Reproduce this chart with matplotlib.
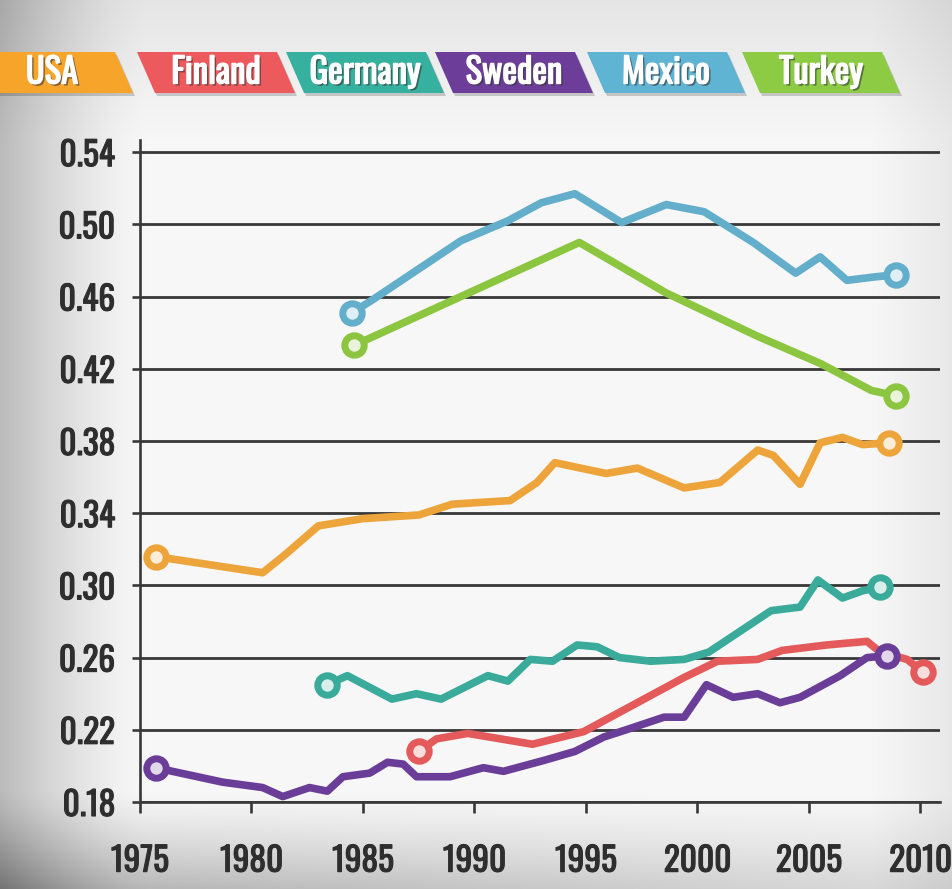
import numpy as np
import matplotlib.pyplot as plt
import matplotlib.patheffects as pe
from matplotlib.colors import to_rgb
from matplotlib.patches import Polygon

# narrow face first; later names only fill in if it is missing
plt.rcParams['font.family'] = ['Oswald', 'Roboto Condensed', 'Liberation Sans Narrow', 'Roboto', 'DejaVu Sans']

# Gini coefficient by country (year, value)
usa_years = [1975.7, 1980.5, 1981.6, 1983.0, 1985.0, 1987.5, 1989.0, 1991.6, 1992.8, 1993.6,
             1995.9, 1997.3, 1999.4, 2001.0, 2002.7, 2003.4, 2004.6, 2005.5, 2006.5, 2007.4, 2008.6]
usa_vals = [0.316, 0.307, 0.318, 0.333, 0.337, 0.339, 0.345, 0.347, 0.357, 0.368,
            0.362, 0.365, 0.354, 0.357, 0.375, 0.372, 0.356, 0.379, 0.382, 0.378, 0.379]

finland_years = [1987.5, 1988.3, 1989.7, 1992.6, 1994.9, 1997.3, 1999.4, 2000.9, 2002.7,
                 2003.8, 2005.8, 2007.6, 2008.2, 2009.4, 2010.1]
finland_vals = [0.208, 0.215, 0.218, 0.212, 0.219, 0.235, 0.249, 0.258, 0.259,
                0.264, 0.267, 0.269, 0.263, 0.259, 0.252]

germany_years = [1983.4, 1984.3, 1986.3, 1987.4, 1988.5, 1990.6, 1991.5, 1992.5, 1993.5, 1994.6,
                 1995.5, 1996.5, 1997.9, 1999.4, 2000.5, 2003.3, 2004.6, 2005.4, 2006.5, 2007.4, 2008.2]
germany_vals = [0.245, 0.250, 0.237, 0.240, 0.237, 0.250, 0.247, 0.259, 0.258, 0.267,
                0.266, 0.260, 0.258, 0.259, 0.263, 0.286, 0.288, 0.303, 0.293, 0.297, 0.299]

sweden_years = [1975.7, 1978.7, 1980.5, 1981.4, 1982.6, 1983.4, 1984.1, 1985.3, 1986.1, 1986.8,
                1987.4, 1988.9, 1990.4, 1991.3, 1993.1, 1994.5, 1995.8, 1996.8, 1998.5, 1999.4,
                2000.4, 2001.6, 2002.7, 2003.7, 2004.6, 2006.4, 2007.6, 2008.5]
sweden_vals = [0.199, 0.191, 0.188, 0.183, 0.188, 0.186, 0.194, 0.196, 0.202, 0.201,
               0.194, 0.194, 0.199, 0.197, 0.203, 0.208, 0.216, 0.220, 0.227, 0.227,
               0.245, 0.238, 0.240, 0.235, 0.238, 0.250, 0.260, 0.261]

mexico_years = [1984.5, 1985.4, 1989.4, 1991.5, 1993.0, 1994.5, 1996.6, 1998.6, 2000.3,
                2002.5, 2004.4, 2005.5, 2006.7, 2008.0, 2008.9]
mexico_vals = [0.451, 0.458, 0.491, 0.502, 0.512, 0.517, 0.501, 0.511, 0.507,
               0.490, 0.473, 0.482, 0.469, 0.471, 0.472]

turkey_years = [1984.6, 1994.7, 1998.6, 2002.7, 2005.5, 2007.8, 2008.9]
turkey_vals = [0.433, 0.490, 0.462, 0.438, 0.423, 0.408, 0.405]

names = ['USA', 'Finland', 'Germany', 'Sweden', 'Mexico', 'Turkey']
colors = ['#eda53b', '#e45a5a', '#3aab9a', '#6a3d98', '#62aecb', '#8cc540']
tag_colors = ['#f6a52a', '#ec5a5e', '#36b19f', '#6c3e99', '#5fb3d3', '#8ccb43']
series = [(usa_years, usa_vals), (finland_years, finland_vals), (germany_years, germany_vals),
          (sweden_years, sweden_vals), (mexico_years, mexico_vals), (turkey_years, turkey_vals)]

yticks = [0.18, 0.22, 0.26, 0.30, 0.34, 0.38, 0.42, 0.46, 0.50, 0.54]
xticks = [1975, 1980, 1985, 1990, 1995, 2000, 2005, 2010]

W, H = 953, 889
fig = plt.figure(figsize=(W / 100, H / 100), dpi=100)

# backdrop: light grey with darker left and bottom edges
bg = fig.add_axes([0, 0, 1, 1])
xx, yy = np.meshgrid(np.arange(W), np.arange(H))
v = (0.97
     - 0.24 * np.clip(1 - xx / 150, 0, 1) ** 1.5
     - 0.28 * np.clip((yy - 790) / 99, 0, 1) ** 1.3 * (1 - 0.6 * xx / W)
     - 0.07 * np.clip(1 - yy / 140, 0, 1)
     - 0.06 * np.clip((xx - 870) / 83, 0, 1))
bg.imshow(np.dstack([v, v, v]), extent=(0, W, H, 0), aspect='auto')
bg.set_xlim(0, W)
bg.set_ylim(H, 0)
bg.axis('off')

# legend tags as slanted ribbons
tag_left = [-40, 137, 286, 435, 587, 742]
tag_w, slant, top, bot = 140, 18, 52, 93
for name, c, x0 in zip(names, tag_colors, tag_left):
    x1 = 115 if name == 'USA' else x0 + tag_w
    pts = [(x0, top), (x1, top), (x1 + slant, bot), (x0 + slant, bot)]
    bg.add_patch(Polygon([(px + 2, py + 3) for px, py in pts], closed=True,
                         facecolor='black', alpha=0.18, lw=0))
    bg.add_patch(Polygon(pts, closed=True, facecolor=c, lw=0))
    cx = 52 if name == 'USA' else (x0 + x1 + slant) / 2
    bg.text(cx, (top + bot) / 2, name, color='white', fontsize=25, fontweight='bold',
            fontstretch='condensed', ha='center', va='center',
            path_effects=[pe.SimplePatchShadow(offset=(1.5, -1.5), shadow_rgbFace='#333333', alpha=0.6),
                          pe.withStroke(linewidth=1.0, foreground='white')])

ax = fig.add_axes([140 / W, 1 - 802 / H, 800 / W, 662 / H])
ax.set_facecolor('none')
ax.set_zorder(2)

for (xs, ys), c in zip(series, colors):
    ax.plot(xs, ys, color=c, lw=5.5, solid_joinstyle='round', solid_capstyle='round', zorder=3)
    face = tuple(0.8 + 0.2 * np.array(to_rgb(c)))
    ax.plot([xs[0], xs[-1]], [ys[0], ys[-1]], ls='none', marker='o', ms=14, mew=5,
            mec=c, mfc=face, zorder=4)

ax.set_xlim(1975, 1975 + 800 / 22.3)
ax.set_ylim(0.18, 0.18 + 662 / 1805)
ax.set_xticks(xticks)
ax.set_yticks(yticks)
ax.set_yticklabels([f'{t:.2f}' for t in yticks])
ax.grid(axis='y', color='#383838', lw=2.0, zorder=1)
ax.set_axisbelow(True)

for s in ['top', 'right']:
    ax.spines[s].set_visible(False)
for s in ['left', 'bottom']:
    ax.spines[s].set_color('#383838')
    ax.spines[s].set_linewidth(1.9)
ax.tick_params(axis='y', length=6, width=1.9, color='#383838', pad=12, labelsize=24, labelcolor='#2e2e2e')
ax.tick_params(axis='x', length=8, width=1.9, color='#383838', pad=22, labelsize=24, labelcolor='#2e2e2e')
# heavier strokes on the tick numbers
for lab in ax.get_xticklabels() + ax.get_yticklabels():
    lab.set_fontstretch('condensed')
    lab.set_path_effects([pe.withStroke(linewidth=0.8, foreground='#2e2e2e')])

fig.savefig('out.png', dpi=100)
